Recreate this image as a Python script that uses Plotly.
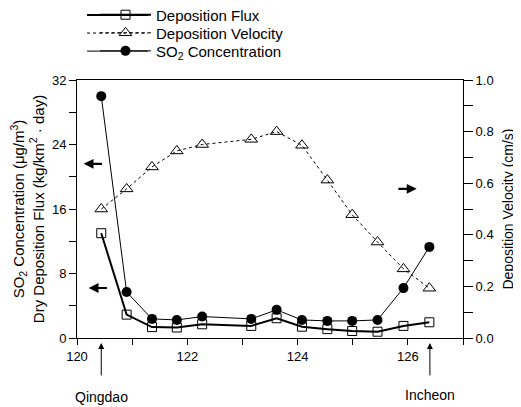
import plotly.graph_objects as go

lon = [120.44, 120.90, 121.36, 121.81, 122.27, 123.16, 123.62, 124.08, 124.54, 124.99, 125.45, 125.92, 126.39]
flux = [13.0, 2.9, 1.35, 1.3, 1.7, 1.5, 2.45, 1.4, 1.1, 0.87, 0.78, 1.5, 1.95]
velocity = [0.50, 0.578, 0.663, 0.725, 0.75, 0.77, 0.80, 0.747, 0.612, 0.478, 0.372, 0.268, 0.193]
so2 = [30.0, 5.7, 2.37, 2.24, 2.66, 2.37, 3.49, 2.24, 2.12, 2.12, 2.24, 6.19, 11.3]
x_ticks = [120, 122, 124, 126]
y_ticks = [0, 8, 16, 24, 32]
y2_ticks = [0.0, 0.2, 0.4, 0.6, 0.8, 1.0]
stations = ["Qingdao", "Incheon"]
station_lon = [120.44, 126.40]
station_label_y = [-0.229, -0.220]

FONT = "Liberation Sans, Arial, sans-serif"

fig = go.Figure()
fig.add_trace(go.Scatter(
    x=lon, y=flux, name="Deposition Flux", mode="lines+markers", legend="legend",
    line=dict(color="black", width=2),
    marker=dict(symbol="square-open", size=9, color="black", line=dict(width=1)),
))
fig.add_trace(go.Scatter(
    x=lon, y=velocity, name="Deposition Velocity", mode="lines+markers", yaxis="y2", legend="legend2",
    line=dict(color="black", width=1, dash="3px,3px"),
    marker=dict(symbol="triangle-up-open", size=11, color="black", line=dict(width=1)),
))
fig.add_trace(go.Scatter(
    x=lon, y=so2, name="SO<sub>2</sub> Concentration", mode="lines+markers", legend="legend3",
    line=dict(color="black", width=1),
    marker=dict(symbol="circle", size=10, color="black"),
))

ann = []
# direction arrows
for (hx, tx, yy, yr) in [(120.12, 120.48, 21.6, "y"), (120.21, 120.57, 6.2, "y"), (126.16, 125.8, 18.5, "y")]:
    ann.append(dict(x=hx, y=yy, ax=tx, ay=yy, xref="x", yref=yr, axref="x", ayref=yr,
                    showarrow=True, arrowhead=2, arrowsize=0.9, arrowwidth=2.2, arrowcolor="black", text=""))
for name, sx, ly in zip(stations, station_lon, station_label_y):
    ann.append(dict(x=sx, y=-0.019, xref="x", yref="paper", ax=0, ay=34,
                    showarrow=True, arrowhead=2, arrowsize=1.2, arrowwidth=1, arrowcolor="black", text=""))
    ann.append(dict(x=sx, y=ly, xref="x", yref="paper", showarrow=False, text=name,
                    font=dict(size=14, family=FONT, color="black"), yanchor="middle"))

leg_rows = [1.252, 1.182, 1.112]
leg_x = 0.0466
leg_common = dict(x=leg_x, xanchor="left", yanchor="middle", bgcolor="rgba(0,0,0,0)",
                  font=dict(size=15), itemwidth=51)

shapes = []
for ry, w, d in zip(leg_rows, [2, 1, 1], ["solid", "3px,3px", "solid"]):
    shapes.append(dict(type="line", xref="paper", yref="paper", x0=0.026, x1=0.184, y0=ry, y1=ry,
                       line=dict(color="black", width=w, dash=d)))

fig.update_layout(
    width=513, height=399,
    margin=dict(l=69, r=58, t=72, b=69, autoexpand=False),
    paper_bgcolor="white", plot_bgcolor="white",
    font=dict(family=FONT, size=13, color="black"),
    showlegend=True,
    legend=dict(y=leg_rows[0], **leg_common),
    legend2=dict(y=leg_rows[1], **leg_common),
    legend3=dict(y=leg_rows[2], **leg_common),
    xaxis=dict(range=[120, 127], tickvals=x_ticks, ticks="outside", ticklen=6, tickcolor="black",
               showline=True, linecolor="black", linewidth=1, mirror=True, showgrid=False, zeroline=False,
               minor=dict(ticks="outside", dtick=1, tick0=120, ticklen=6, tickcolor="black"),
               tickfont=dict(size=13), automargin=False),
    yaxis=dict(range=[0, 32], tickvals=y_ticks, ticks="outside", ticklen=7, tickcolor="black",
               showline=True, linecolor="black", linewidth=1, showgrid=False, zeroline=False,
               minor=dict(ticks="outside", dtick=4, tick0=0, ticklen=7, tickcolor="black"),
               title=dict(text="SO<sub>2</sub> Concentration (μg/m<sup>3</sup>)<br>Dry Deposition Flux (kg/km<sup>2</sup> · day)",
                          font=dict(size=15), standoff=5),
               tickfont=dict(size=13), automargin=False),
    yaxis2=dict(range=[0, 1], overlaying="y", side="right", tickvals=y2_ticks, tickformat=".1f",
                ticks="outside", ticklen=9, tickcolor="black",
                showline=True, linecolor="black", linewidth=1, showgrid=False, zeroline=False,
                minor=dict(ticks="outside", dtick=0.1, tick0=0, ticklen=9, tickcolor="black"),
                title=dict(text="Deposition Velocity (cm/s)", font=dict(size=14), standoff=10),
                tickfont=dict(size=13), automargin=False),
    annotations=ann,
    shapes=shapes,
)

fig.write_html("out.html")
